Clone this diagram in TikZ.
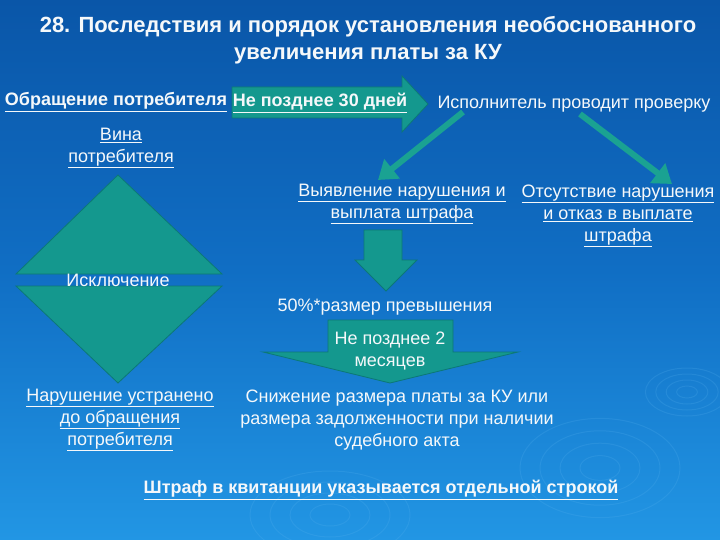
\documentclass[tikz,border=0pt]{standalone}
\usepackage{fontspec}
\setmainfont{Liberation Sans}
\usetikzlibrary{arrows.meta}
\definecolor{bgtop}{RGB}{10,86,168}
\definecolor{bgmid}{RGB}{16,110,196}
\definecolor{bgbot}{RGB}{34,150,228}
\definecolor{tealf}{RGB}{20,152,142}
\definecolor{teald}{RGB}{12,120,118}
\definecolor{teall}{RGB}{26,162,146}
\definecolor{txt}{RGB}{245,248,250}
\definecolor{ripple}{RGB}{90,180,240}
\tikzset{
  lbl/.style={text=txt, align=center, inner sep=0pt, font=\fontsize{18}{22}\selectfont},
  blbl/.style={lbl, font=\fontsize{18}{22}\selectfont\bfseries},
  ttl/.style={text=txt, align=center, inner sep=0pt, font=\fontsize{22}{27}\selectfont\bfseries},
  blockarrow/.style={fill=tealf, draw=teald, line width=0.8pt},
  tri/.style={fill=tealf, draw=teald, line width=0.8pt},
  thinarrow/.style={draw=teall, line width=6pt, -{Triangle[width=24pt,length=18pt]}},
  rip/.style={draw=ripple, opacity=0.2, line width=1pt}
}
\begin{document}
\begin{tikzpicture}[x=1pt,y=-1pt]
\useasboundingbox (0,0) rectangle (720,540);
\shade[top color=bgtop, bottom color=bgbot, middle color=bgmid] (0,0) rectangle (720,540);
% ripples
\foreach \r in {8,16,24,32}{\draw[rip] (687,392) ellipse ({\r*1.3} and {\r*0.75});}
\foreach \r in {20,40,60,80}{\draw[rip] (600,468) ellipse ({\r} and {\r*0.62});}
\foreach \r in {20,40,60,80}{\draw[rip] (330,515) ellipse ({\r} and {\r*0.55});}

% title
\node[ttl] (t1) at (368,27) {28. Последствия и порядок установления необоснованного};
\node[ttl] (t2) at (368,54) {увеличения платы за КУ};

% top block arrow
\draw[blockarrow] (232,87) -- (402,87) -- (402,76) -- (428,104) -- (402,132) -- (402,118) -- (232,118) -- cycle;
\node[blbl] (d30) at (320,103) {\underline{Не позднее 30 дней}};
\node[blbl] (obr) at (116,102) {\underline{Обращение потребителя}};
\node[lbl] (isp) at (574,104) {Исполнитель проводит проверку};

% diagonal arrows
\coordinate (ls) at (463,112);
\coordinate (lt) at (378,180);
\coordinate (rs) at (580,114);
\coordinate (rt) at (672,184);
\draw[thinarrow] (ls) -- (lt);
\draw[thinarrow] (rs) -- (rt);

\node[lbl] (vina) at (121,148) {\underline{Вина}\\\underline{потребителя}};
\node[lbl] (vyav) at (402,204) {\underline{Выявление нарушения и}\\\underline{выплата штрафа}};
\node[lbl] (ots) at (618,216) {\underline{Отсутствие нарушения}\\\underline{и отказ в выплате}\\\underline{штрафа}};

% diamond
\draw[tri] (118,175) -- (222,274) -- (16,274) -- cycle;
\draw[tri] (16,286) -- (222,286) -- (118,383) -- cycle;
\node[lbl] (iskl) at (118,280) {Исключение};

% down arrow
\draw[blockarrow] (364,230) -- (402,230) -- (402,260) -- (417,260) -- (386,291) -- (355,260) -- (364,260) -- cycle;
\node[lbl] (p50) at (385,307) {50\%*размер превышения};

% bottom arrow
\draw[blockarrow] (328,320) -- (453,320) -- (453,352) -- (518,352) -- (390,383) -- (263,352) -- (328,352) -- cycle;
\node[lbl] (m2) at (390,351) {Не позднее 2\\месяцев};

\node[lbl] (nar) at (120,420) {\underline{Нарушение устранено}\\\underline{до обращения}\\\underline{потребителя}};
\node[lbl] (sniz) at (397,420) {Снижение размера платы за КУ или\\размера задолженности при наличии\\судебного акта};
\node[blbl] (shtr) at (381,490) {\underline{Штраф в квитанции указывается отдельной строкой}};
\end{tikzpicture}
\end{document}
